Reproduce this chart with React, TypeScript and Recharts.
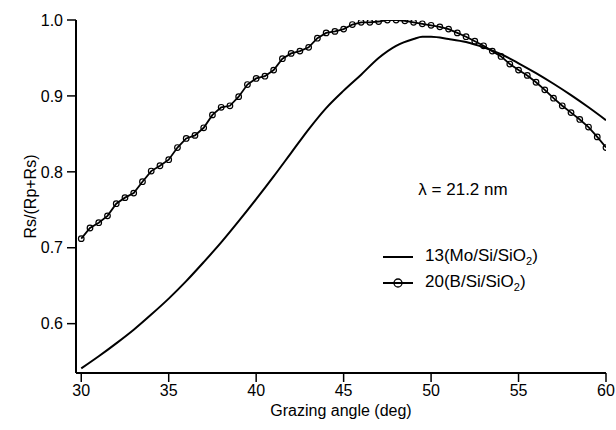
import { LineChart, Line, XAxis, YAxis, Legend, Label } from 'recharts';

// B/Si/SiO2 multilayer (circles), every 0.5 deg
const bAngles = [
  30, 30.5, 31, 31.5, 32, 32.5, 33, 33.5, 34, 34.5, 35, 35.5, 36, 36.5, 37, 37.5, 38, 38.5, 39, 39.5,
  40, 40.5, 41, 41.5, 42, 42.5, 43, 43.5, 44, 44.5, 45, 45.5, 46, 46.5, 47, 47.5, 48, 48.5, 49, 49.5,
  50, 50.5, 51, 51.5, 52, 52.5, 53, 53.5, 54, 54.5, 55, 55.5, 56, 56.5, 57, 57.5, 58, 58.5, 59, 59.5, 60,
];
const bRatio = [
  0.712, 0.726, 0.733, 0.742, 0.758, 0.766, 0.772, 0.787, 0.801, 0.808, 0.816, 0.832, 0.844, 0.848, 0.858,
  0.875, 0.885, 0.887, 0.899, 0.915, 0.923, 0.926, 0.934, 0.949, 0.956, 0.959, 0.964, 0.976, 0.983, 0.985,
  0.988, 0.994, 0.997, 0.997, 0.998, 1.0, 1.0, 0.999, 0.997, 0.995, 0.993, 0.991, 0.988, 0.983, 0.978,
  0.972, 0.966, 0.959, 0.952, 0.942, 0.934, 0.927, 0.918, 0.908, 0.897, 0.887, 0.878, 0.869, 0.859, 0.846, 0.832,
];

// Mo/Si/SiO2 multilayer (plain line)
const moAngles = [30, 31, 32, 33, 34, 35, 36, 37, 38, 39, 40, 41, 42, 43, 44, 45, 46, 47, 48, 49, 49.5, 50, 51, 52, 53, 54, 55, 56, 57, 58, 59, 60];
const moRatio = [
  0.541, 0.557, 0.574, 0.592, 0.612, 0.633, 0.656, 0.681, 0.707, 0.735, 0.764, 0.794, 0.825, 0.856, 0.884,
  0.907, 0.928, 0.950, 0.966, 0.975, 0.978, 0.978, 0.975, 0.971, 0.964, 0.955, 0.943, 0.930, 0.916, 0.901, 0.885, 0.868,
];

const angleTicks = [30, 35, 40, 45, 50, 55, 60];
const ratioTicks = [0.6, 0.7, 0.8, 0.9, 1.0];

const bData = bAngles.map((x, i) => ({ x, y: bRatio[i] }));
const moData = moAngles.map((x, i) => ({ x, y: moRatio[i] }));

const FONT = '"Liberation Sans", Arial, Helvetica, sans-serif';

function LegendBox() {
  const row = { display: 'flex', alignItems: 'center', height: 26 } as const;
  return (
    <div style={{ fontFamily: FONT, fontSize: 17, color: '#000' }}>
      <div style={row}>
        <svg width={32} height={14}>
          <line x1={0} y1={7} x2={30} y2={7} stroke="#000" strokeWidth={2} />
        </svg>
        <span style={{ marginLeft: 10 }}>
          13(Mo/Si/SiO<sub style={{ fontSize: 11 }}>2</sub>)
        </span>
      </div>
      <div style={row}>
        <svg width={32} height={14}>
          <line x1={0} y1={7} x2={30} y2={7} stroke="#000" strokeWidth={2} />
          <circle cx={15} cy={7} r={4} fill="none" stroke="#000" strokeWidth={1.3} />
        </svg>
        <span style={{ marginLeft: 10 }}>
          20(B/Si/SiO<sub style={{ fontSize: 11 }}>2</sub>)
        </span>
      </div>
    </div>
  );
}

export default function App() {
  return (
    <div style={{ position: 'absolute', left: 0, top: 0, width: 616, height: 430, background: '#fff' }}>
      <LineChart width={616} height={430} margin={{ top: 20, right: 10, bottom: 0, left: 0 }} style={{ fontFamily: FONT }}>
        <XAxis
          type="number"
          dataKey="x"
          domain={[29.7, 60]}
          ticks={angleTicks}
          allowDataOverflow
          height={57}
          tickSize={9}
          tickMargin={3}
          axisLine={{ stroke: '#000', strokeWidth: 2 }}
          tickLine={{ stroke: '#000', strokeWidth: 1.5 }}
          tick={{ fill: '#000', fontSize: 16 }}
        >
          <Label value="Grazing angle (deg)" position="insideBottom" offset={14} fill="#000" fontSize={16} />
        </XAxis>
        <YAxis
          type="number"
          dataKey="y"
          domain={[0.535, 1.0]}
          ticks={ratioTicks}
          allowDataOverflow
          width={76}
          tickSize={9}
          tickMargin={4}
          tickFormatter={(v: number) => v.toFixed(1)}
          axisLine={{ stroke: '#000', strokeWidth: 2 }}
          tickLine={{ stroke: '#000', strokeWidth: 1.5 }}
          tick={{ fill: '#000', fontSize: 16 }}
        >
          <Label
            content={(props: any) => {
              const vb = props.viewBox || { x: 0, y: 20, width: 76, height: 352 };
              const cx = vb.x + 30;
              const cy = vb.y + vb.height / 2;
              return (
                <text x={cx} y={cy} transform={`rotate(-90 ${cx} ${cy})`} textAnchor="middle" dominantBaseline="central" fill="#000" fontSize={16}>
                  Rs/(Rp+Rs)
                </text>
              );
            }}
          />
        </YAxis>
        <Legend
          layout="horizontal"
          verticalAlign="middle"
          align="center"
          content={() => <LegendBox />}
          wrapperStyle={{ left: 383, top: 244, width: 230, height: 52 }}
        />
        <Line
          data={moData}
          dataKey="y"
          type="monotone"
          stroke="#000"
          strokeWidth={2}
          dot={false}
          isAnimationActive={false}
        />
        <Line
          data={bData}
          dataKey="y"
          type="linear"
          stroke="#000"
          strokeWidth={1.8}
          dot={{ r: 2.8, fill: 'none', stroke: '#000', strokeWidth: 1.2 }}
          isAnimationActive={false}
        />
      </LineChart>
      <div
        style={{
          position: 'absolute',
          left: 463,
          top: 190,
          transform: 'translate(-50%, -50%)',
          fontFamily: FONT,
          fontSize: 17,
          color: '#000',
          whiteSpace: 'nowrap',
        }}
      >
        λ = 21.2 nm
      </div>
    </div>
  );
}
